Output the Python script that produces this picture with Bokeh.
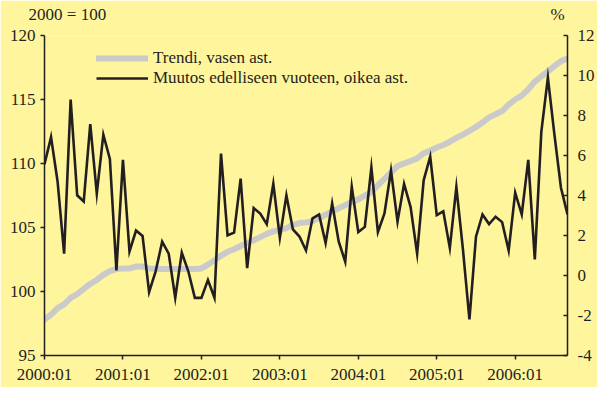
from bokeh.plotting import figure
from bokeh.models import Range1d, LinearAxis, FixedTicker, Legend, LegendItem
from bokeh.embed import file_html
from bokeh.resources import INLINE

# ---- data ----
years = [2000, 2001, 2002, 2003, 2004, 2005, 2006]
months = [f"{y}:{m:02d}" for y in years for m in range(1, 13)][:81]   # 2000:01 .. 2006:09
tick_labels = ["2000:01", "2001:01", "2002:01", "2003:01", "2004:01", "2005:01", "2006:01"]

trend = [97.8, 98.2, 98.7, 99.0, 99.5, 99.8, 100.2, 100.6, 100.9, 101.3,
         101.6, 101.75, 101.8, 101.8, 101.95, 101.95, 101.8, 101.75, 101.75, 101.75,
         101.75, 101.75, 101.75, 101.75, 101.8, 102.1, 102.45, 102.8, 103.1, 103.3,
         103.55, 103.8, 104.0, 104.25, 104.5, 104.7, 104.8, 104.95, 105.2, 105.35,
         105.4, 105.5, 105.75, 106.0, 106.25, 106.5, 106.75, 107.0, 107.2, 107.5,
         107.75, 108.3, 108.8, 109.3, 109.8, 110.0, 110.2, 110.4, 110.8, 111.0,
         111.25, 111.45, 111.7, 112.0, 112.25, 112.55, 112.85, 113.2, 113.6, 113.85,
         114.1, 114.6, 115.0, 115.3, 115.8, 116.4, 116.8, 117.2, 117.6, 118.0,
         118.2]

change = [5.56, 6.92, 4.7, 1.09, 8.80, 4.01, 3.70, 7.57, 4.10, 7.04,
          5.83, 0.26, 5.78, 1.20, 2.25, 1.98, -0.83, 0.21, 1.69, 1.09,
          -1.11, 1.14, 0.21, -1.12, -1.12, -0.23, -1.11, 6.10, 2.01, 2.14,
          4.84, 0.37, 3.37, 3.10, 2.57, 4.59, 1.89, 4.01, 2.30, 1.95,
          1.25, 2.86, 3.05, 1.62, 3.61, 1.70, 0.69, 4.43, 2.17, 2.43,
          5.40, 2.17, 3.10, 5.24, 2.70, 4.58, 3.42, 1.09, 4.76, 5.94,
          3.02, 3.21, 1.38, 4.42, 1.33, -2.20, 1.94, 3.05, 2.57, 2.94,
          2.67, 1.25, 4.14, 3.05, 5.78, 0.80, 7.20, 9.89, 7.04, 4.39,
          3.05]

left_ticks = [95, 100, 105, 110, 115, 120]
right_ticks = [-4, -2, 0, 2, 4, 6, 8, 10, 12]
left_unit = "2000 = 100"
right_unit = "%"
series_names = ["Trendi, vasen ast.", "Muutos edelliseen vuoteen, oikea ast."]

# ---- style ----
BG = "#FFF59D"
INK = "#231F20"
GREY = "#CACACA"
FONT = "Liberation Serif"
FS = "17px"

x = list(range(len(months)))
tick_pos = [months.index(t) for t in tick_labels]

p = figure(width=597, height=387, output_backend="svg", toolbar_location=None,
           x_range=Range1d(0, len(months) - 1), y_range=Range1d(95, 120),
           min_border_left=44, min_border_right=30, min_border_top=35, min_border_bottom=32,
           background_fill_color=BG, border_fill_color=BG, outline_line_color=None)
p.extra_y_ranges = {"right": Range1d(-4, 12)}
p.xgrid.visible = False
p.ygrid.visible = False

def style_axis(ax):
    ax.axis_line_color = INK
    ax.axis_line_width = 1.5
    ax.major_tick_line_color = INK
    ax.major_tick_line_width = 1.5
    ax.minor_tick_line_color = None
    ax.major_label_text_font = FONT
    ax.major_label_text_font_size = FS
    ax.major_label_text_color = INK

xa = p.xaxis[0]
style_axis(xa)
xa.ticker = FixedTicker(ticks=tick_pos)
xa.major_label_overrides = {pos: lab for pos, lab in zip(tick_pos, tick_labels)}
xa.major_tick_out = 4
xa.major_tick_in = 0
xa.major_label_standoff = 5

ya = p.yaxis[0]
style_axis(ya)
ya.ticker = FixedTicker(ticks=left_ticks)
ya.major_tick_out = 4
ya.major_tick_in = 0
ya.major_label_standoff = 5

ra = LinearAxis(y_range_name="right")
style_axis(ra)
ra.ticker = FixedTicker(ticks=right_ticks)
ra.major_label_overrides = {t: str(t) for t in right_ticks}
ra.major_tick_out = 0
ra.major_tick_in = 4
ra.major_label_standoff = 10
p.add_layout(ra, "right")

# unit captions above the two value axes (as labels of a line-less top axis)
ta = LinearAxis()
style_axis(ta)
ta.axis_line_color = None
ta.major_tick_line_color = None
ta.ticker = FixedTicker(ticks=[3.5, 78.5])
ta.major_label_overrides = {3.5: left_unit, 78.5: right_unit}
ta.major_tick_out = 0
ta.major_tick_in = 0
ta.major_label_standoff = 12
p.add_layout(ta, "above")

r1 = p.line(x, trend, line_color=GREY, line_width=6, line_join="round", line_cap="round")
r2 = p.line(x, change, y_range_name="right", line_color=INK, line_width=2.6, line_join="miter")

for name, rend, ypos in zip(series_names, [r1, r2], [287, 267]):
    lg = Legend(items=[LegendItem(label=name, renderers=[rend])],
                location=(52, ypos), background_fill_alpha=0, border_line_color=None,
                label_text_font=FONT, label_text_font_size=FS, label_text_color=INK,
                glyph_width=52, glyph_height=16, label_height=16, spacing=0,
                padding=0, margin=0, label_standoff=5)
    p.add_layout(lg)

open("out.html", "w").write(file_html(p, INLINE))
